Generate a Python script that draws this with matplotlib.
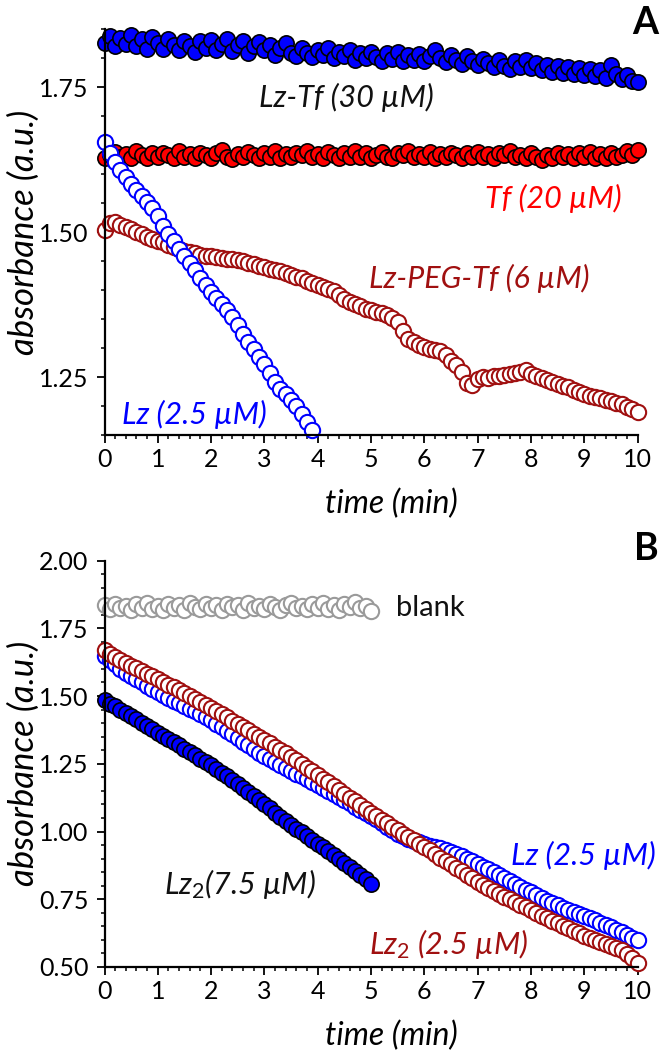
import numpy as np
import matplotlib
matplotlib.use('Agg')
import matplotlib.pyplot as plt
from matplotlib.ticker import MultipleLocator, FormatStrFormatter

plt.rcParams['font.family'] = ['Lato', 'DejaVu Sans']
plt.rcParams['mathtext.fontset'] = 'custom'
plt.rcParams['mathtext.rm'] = 'Lato'
plt.rcParams['mathtext.it'] = 'Lato:italic'
plt.rcParams['mathtext.default'] = 'it'

# sampling grid (min), one reading every 0.1 min
time = np.round(np.arange(101) * 0.1, 1)

# ---- panel A ----
lz_tf_30 = [1.826, 1.838, 1.820, 1.834, 1.824, 1.840, 1.821, 1.832, 1.816, 1.836,
            1.826, 1.815, 1.833, 1.822, 1.813, 1.830, 1.820, 1.811, 1.829, 1.818,
            1.831, 1.814, 1.824, 1.833, 1.812, 1.822, 1.829, 1.809, 1.820, 1.827,
            1.813, 1.823, 1.806, 1.818, 1.826, 1.809, 1.803, 1.818, 1.808, 1.801,
            1.814, 1.805, 1.817, 1.800, 1.811, 1.803, 1.814, 1.797, 1.809, 1.800,
            1.811, 1.801, 1.795, 1.808, 1.799, 1.810, 1.794, 1.805, 1.797, 1.807,
            1.795, 1.803, 1.814, 1.800, 1.793, 1.806, 1.797, 1.790, 1.803, 1.794,
            1.788, 1.799, 1.791, 1.784, 1.797, 1.787, 1.781, 1.794, 1.785, 1.796,
            1.782, 1.791, 1.779, 1.788, 1.776, 1.786, 1.774, 1.784, 1.772, 1.783,
            1.771, 1.781, 1.769, 1.779, 1.766, 1.788, 1.772, 1.763, 1.771, 1.761,
            1.759]

tf_20 = [1.627, 1.632, 1.638, 1.630, 1.635, 1.628, 1.639, 1.632, 1.627, 1.636,
         1.629, 1.637, 1.633, 1.628, 1.640, 1.630, 1.635, 1.627, 1.637, 1.632,
         1.628, 1.636, 1.642, 1.630, 1.626, 1.635, 1.629, 1.638, 1.632, 1.627,
         1.636, 1.630, 1.639, 1.628, 1.635, 1.629, 1.637, 1.632, 1.640, 1.629,
         1.635, 1.627, 1.638, 1.632, 1.628, 1.637, 1.630, 1.639, 1.629, 1.636,
         1.628, 1.633, 1.638, 1.630, 1.627, 1.636, 1.632, 1.639, 1.629, 1.635,
         1.630, 1.638, 1.628, 1.635, 1.629, 1.637, 1.632, 1.627, 1.636, 1.630,
         1.638, 1.629, 1.635, 1.628, 1.637, 1.632, 1.639, 1.629, 1.633, 1.627,
         1.636, 1.630, 1.625, 1.633, 1.628, 1.637, 1.629, 1.635, 1.627, 1.636,
         1.630, 1.638, 1.628, 1.635, 1.627, 1.637, 1.629, 1.633, 1.639, 1.632,
         1.641]

lz_peg_tf_6 = [1.503, 1.515, 1.518, 1.512, 1.508, 1.505, 1.500, 1.496, 1.492, 1.488,
               1.485, 1.482, 1.478, 1.474, 1.470, 1.467, 1.465, 1.463, 1.461, 1.459,
               1.458, 1.457, 1.455, 1.454, 1.453, 1.452, 1.450, 1.447, 1.445, 1.442,
               1.440, 1.437, 1.434, 1.432, 1.429, 1.426, 1.423, 1.420, 1.416, 1.412,
               1.408, 1.406, 1.402, 1.399, 1.392, 1.385, 1.380, 1.376, 1.372, 1.368,
               1.365, 1.362, 1.360, 1.357, 1.352, 1.344, 1.330, 1.316, 1.310, 1.306,
               1.302, 1.299, 1.297, 1.294, 1.288, 1.278, 1.270, 1.258, 1.240, 1.236,
               1.246, 1.250, 1.249, 1.252, 1.251, 1.253, 1.255, 1.257, 1.259, 1.262,
               1.256, 1.252, 1.248, 1.244, 1.241, 1.238, 1.235, 1.232, 1.228, 1.224,
               1.220, 1.217, 1.215, 1.213, 1.211, 1.209, 1.206, 1.203, 1.198, 1.194,
               1.190]

lz_a_25 = [1.655, 1.636, 1.620, 1.607, 1.594, 1.583, 1.573, 1.562, 1.552, 1.541,
           1.527, 1.511, 1.497, 1.484, 1.471, 1.459, 1.447, 1.434, 1.421, 1.408,
           1.396, 1.386, 1.376, 1.366, 1.354, 1.340, 1.325, 1.311, 1.298, 1.285,
           1.272, 1.257, 1.242, 1.229, 1.220, 1.211, 1.200, 1.186, 1.172, 1.158]

# ---- panel B ----
blank = [1.837, 1.820, 1.841, 1.824, 1.833, 1.818, 1.839, 1.826, 1.843, 1.822,
         1.832, 1.816, 1.840, 1.825, 1.836, 1.819, 1.842, 1.828, 1.820, 1.838,
         1.824, 1.835, 1.817, 1.841, 1.827, 1.837, 1.819, 1.843, 1.825, 1.833,
         1.821, 1.840, 1.827, 1.818, 1.836, 1.842, 1.823, 1.831, 1.820, 1.839,
         1.825, 1.844, 1.822, 1.834, 1.817, 1.840, 1.827, 1.846, 1.823, 1.832,
         1.812]

lz2_75 = [1.485, 1.472, 1.462, 1.449, 1.438, 1.425, 1.414, 1.401, 1.390, 1.377,
          1.365, 1.353, 1.342, 1.329, 1.318, 1.305, 1.292, 1.281, 1.268, 1.257,
          1.245, 1.231, 1.217, 1.203, 1.190, 1.175, 1.160, 1.145, 1.130, 1.115,
          1.100, 1.085, 1.070, 1.055, 1.040, 1.025, 1.011, 0.997, 0.983, 0.969,
          0.955, 0.941, 0.927, 0.913, 0.899, 0.885, 0.870, 0.855, 0.839, 0.824,
          0.808]

lz_b_25 = [1.648, 1.632, 1.618, 1.600, 1.586, 1.574, 1.562, 1.550, 1.538, 1.526,
           1.514, 1.503, 1.493, 1.483, 1.473, 1.463, 1.453, 1.444, 1.433, 1.421,
           1.410, 1.398, 1.385, 1.372, 1.358, 1.345, 1.331, 1.318, 1.304, 1.291,
           1.280, 1.269, 1.257, 1.246, 1.234, 1.223, 1.213, 1.203, 1.193, 1.183,
           1.173, 1.162, 1.151, 1.140, 1.128, 1.116, 1.104, 1.092, 1.080, 1.068,
           1.057, 1.045, 1.032, 1.018, 1.004, 0.992, 0.982, 0.974, 0.966, 0.960,
           0.954, 0.948, 0.943, 0.938, 0.932, 0.926, 0.918, 0.909, 0.900, 0.891,
           0.881, 0.870, 0.860, 0.849, 0.838, 0.827, 0.817, 0.806, 0.795, 0.785,
           0.775, 0.765, 0.755, 0.745, 0.735, 0.727, 0.719, 0.711, 0.703, 0.695,
           0.688, 0.680, 0.672, 0.664, 0.655, 0.646, 0.637, 0.628, 0.618, 0.608,
           0.598]

lz2_25 = [1.669, 1.656, 1.644, 1.633, 1.622, 1.612, 1.602, 1.592, 1.582, 1.572,
          1.562, 1.552, 1.542, 1.532, 1.522, 1.511, 1.501, 1.490, 1.479, 1.467,
          1.456, 1.444, 1.432, 1.421, 1.409, 1.397, 1.385, 1.373, 1.361, 1.349,
          1.337, 1.325, 1.313, 1.301, 1.288, 1.275, 1.262, 1.249, 1.235, 1.222,
          1.208, 1.195, 1.181, 1.167, 1.153, 1.139, 1.125, 1.111, 1.097, 1.083,
          1.069, 1.056, 1.043, 1.030, 1.017, 1.004, 0.991, 0.979, 0.967, 0.955,
          0.943, 0.930, 0.917, 0.904, 0.891, 0.879, 0.866, 0.853, 0.840, 0.828,
          0.815, 0.804, 0.793, 0.782, 0.771, 0.760, 0.750, 0.740, 0.730, 0.720,
          0.710, 0.700, 0.690, 0.680, 0.670, 0.661, 0.652, 0.643, 0.634, 0.625,
          0.616, 0.608, 0.600, 0.592, 0.585, 0.578, 0.570, 0.561, 0.548, 0.532,
          0.515]

BLUE = '#0000ff'
RED = '#ff0000'
DARKRED = '#a01010'
GREY = '#9a9a9a'
MS = 11

fig = plt.figure(figsize=(6.6, 10.5), dpi=100)
axA = fig.add_axes([104.5 / 660, 1 - 435 / 1050, 533 / 660, 406 / 1050])
axB = fig.add_axes([104.5 / 660, 1 - 967 / 1050, 533 / 660, 406.5 / 1050])


def filled(ax, x, y, color):
    ax.plot(x, y, 'o', ms=MS, mfc=color, mec='black', mew=1.2, ls='none', clip_on=False)


def hollow(ax, x, y, color):
    ax.plot(x, y, 'o', ms=MS, mfc='white', mec=color, mew=1.5, ls='none', clip_on=False)


# panel A
filled(axA, time, lz_tf_30, BLUE)
filled(axA, time, tf_20, RED)
hollow(axA, time, lz_peg_tf_6, DARKRED)
hollow(axA, time[:len(lz_a_25)], lz_a_25, BLUE)

# panel B
hollow(axB, time[:len(blank)], blank, GREY)
hollow(axB, time, lz_b_25, BLUE)
hollow(axB, time, lz2_25, DARKRED)
filled(axB, time[:len(lz2_75)], lz2_75, BLUE)

for ax in (axA, axB):
    ax.set_xlim(0, 10)
    ax.spines['top'].set_visible(False)
    ax.spines['right'].set_visible(False)
    for s in ('left', 'bottom'):
        ax.spines[s].set_linewidth(1.6)
    ax.xaxis.set_major_locator(MultipleLocator(1))
    ax.xaxis.set_minor_locator(MultipleLocator(0.2))
    ax.yaxis.set_major_locator(MultipleLocator(0.25))
    ax.yaxis.set_minor_locator(MultipleLocator(0.05))
    ax.yaxis.set_major_formatter(FormatStrFormatter('%.2f'))
    ax.tick_params(which='major', direction='out', length=5.5, width=1.3, labelsize=18, pad=4)
    ax.tick_params(which='minor', direction='out', length=3, width=1.1)
    ax.tick_params(axis='y', which='major', pad=6)
    ax.set_xlabel('time (min)', fontsize=23, style='italic')
    ax.set_ylabel('absorbance (a.u.)', fontsize=25, style='italic')
    ax.xaxis.set_label_coords(0.5375, -0.132)
    ax.yaxis.set_label_coords(-0.122, 0.5)

axA.set_ylim(1.15, 1.85)
axB.set_ylim(0.5, 2.0)

# labels panel A
axA.text(4.53, 1.732, 'Lz-Tf (30 µM)', fontsize=22, style='italic', color='#111111', ha='center', va='center')
axA.text(8.42, 1.558, 'Tf (20 µM)', fontsize=22, style='italic', color=RED, ha='center', va='center')
axA.text(7.04, 1.420, 'Lz-PEG-Tf (6 µM)', fontsize=22, style='italic', color=DARKRED, ha='center', va='center')
axA.text(1.69, 1.186, 'Lz (2.5 µM)', fontsize=22, style='italic', color=BLUE, ha='center', va='center')

# labels panel B
axB.text(5.47, 1.825, 'blank', fontsize=21, color='#111111', ha='left', va='center')
axB.text(8.99, 0.912, 'Lz (2.5 µM)', fontsize=22, style='italic', color=BLUE, ha='center', va='center')
axB.text(6.46, 0.548, 'Lz$_2$ (2.5 µM)', fontsize=22, style='italic', color=DARKRED, ha='center', va='baseline')
axB.text(2.54, 0.768, 'Lz$_2$(7.5 µM)', fontsize=22, style='italic', color='#111111', ha='center', va='baseline')

fig.text(0.998, 1 - 6 / 1050, 'A', fontsize=27, fontweight='bold', ha='right', va='top')
fig.text(0.998, 1 - 532 / 1050, 'B', fontsize=27, fontweight='bold', ha='right', va='top')

fig.savefig('out.png', dpi=100)
